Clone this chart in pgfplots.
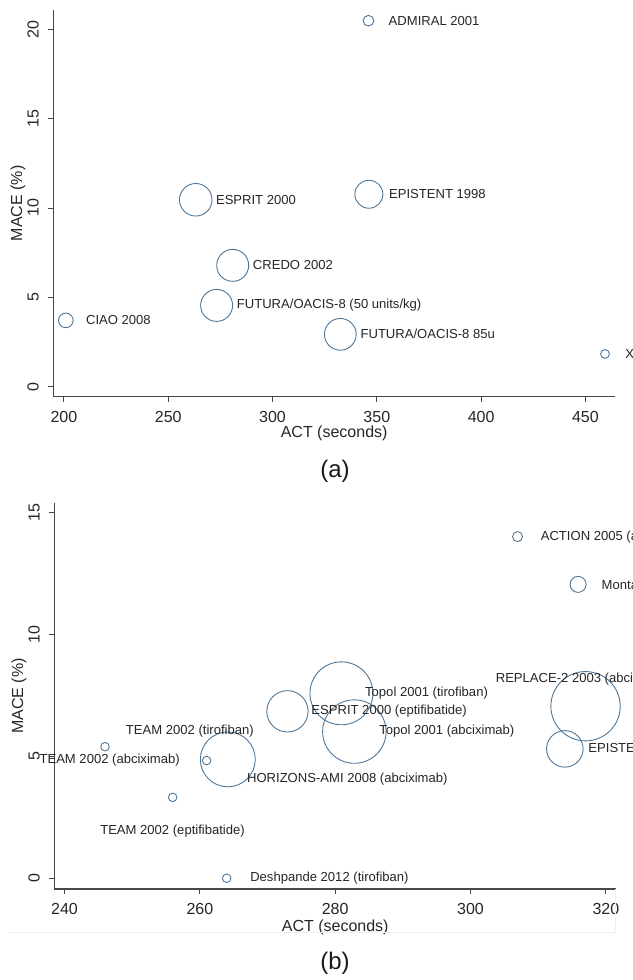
\documentclass[border=0pt]{standalone}
\usepackage{pgfplots}
\pgfplotsset{compat=1.18}
\usepackage{pgfplotstable}
\usepackage{fontspec}
\setmainfont{Liberation Sans}
\definecolor{circ}{RGB}{75,115,150}
\definecolor{axc}{RGB}{70,70,70}

\pgfplotstableread{
x y r lab dx dy
346.0 20.48 4.0 {ADMIRAL 2001} 15 0
263.2 10.46 12.2 {ESPRIT 2000} 15 0
346.2 10.77 10.5 {EPISTENT 1998} 15 0
280.9 6.79 12.0 {CREDO 2002} 15 0
273.2 4.55 12.0 {FUTURA/OACIS-8 (50 units/kg)} 15 0
200.9 3.71 5.5 {CIAO 2008} 15 0
332.5 2.93 11.9 {FUTURA/OACIS-8 85u} 15 0
459.4 1.83 3.3 {X} 15 0
}\tabA

\pgfplotstableread{
x y r lab dx dy
306.95 14.02 3.75 {ACTION 2005 (abciximab)} 17.25 0
315.9 12.06 6.0 {Montalescot} 17.5 0
317.0 7.06 26.0 {REPLACE-2 2003 (abciximab)} -67.5 20.25
313.94 5.31 13.7 {EPISTENT 1998 (abciximab)} 17.5 0
280.92 7.59 23.6 {Topol 2001 (tirofiban)} 17.6 0
282.83 6.02 23.8 {Topol 2001 (abciximab)} 18.5 0
272.94 6.85 15.5 {ESPRIT 2000 (eptifibatide)} 17.8 0
264.13 4.88 20.6 {HORIZONS-AMI 2008 (abciximab)} 14.25 -15
245.98 5.40 3.2 {TEAM 2002 (tirofiban)} 15.5 11.8
261.0 4.83 3.2 {TEAM 2002 (abciximab)} -125.5 0
255.98 3.32 3.2 {TEAM 2002 (eptifibatide)} -54.5 -25
263.96 0.0 3.2 {Deshpande 2012 (tirofiban)} 17.5 0
}\tabB

\pgfplotsset{
  stataax/.style={
    scale only axis, axis lines*=left,
    axis line style={-, draw=axc, line width=0.9pt},
    tick align=outside, major tick length=3.75pt,
    tick style={draw=axc, line width=0.7pt},
    tick label style={font=\fontsize{12}{14}\selectfont, text=black!85},
    /pgf/number format/assume math mode=true,
    xticklabel style={anchor=north, inner sep=0pt, yshift=-7pt},
    yticklabel style={xshift=-7pt, rotate=90, anchor=south, inner sep=0pt},
    every axis y label/.style={at={(axis description cs:0,0.5)}, xshift=-26.5pt, rotate=90, anchor=center, font=\fontsize{12}{14}\selectfont, text=black!85},
    clip=false,
  },
  lbl/.style={only marks, mark=*, mark size=0pt,
    mark options={draw=none, fill=none},
    scatter/use mapped color={draw=none, fill=none},
    point meta=explicit symbolic, nodes near coords,
    visualization depends on={\thisrow{dx}\as\mydx},
    visualization depends on={\thisrow{dy}\as\mydy},
    every node near coord/.append style={anchor=west, xshift=\mydx pt, yshift=\mydy pt, inner sep=0pt, font=\fontsize{9.8}{11}\selectfont, text=black!85}},
  bub/.style={scatter, only marks, mark=o, point meta=explicit,
    scatter/use mapped color={draw=circ},
    visualization depends on={\thisrow{r}\as\myr},
    scatter/@pre marker code/.append style={/tikz/mark size=\myr pt},
    mark options={line width=0.65pt}},
}

\begin{document}
\begin{tikzpicture}
\useasboundingbox (0,0) rectangle (474pt,735pt);
\clip (0,0) rectangle (474pt,735pt);
\fill[white] (0,0) rectangle (474pt,735pt);

\begin{axis}[stataax, at={(39.98pt,437.48pt)}, anchor=south west,
  width=421.28pt, height=290pt,
  xmin=194.9, xmax=464.2, ymin=-0.56, ymax=21.08,
  xtick={200,250,...,450}, ytick={0,5,...,20},
  xlabel={ACT (seconds)}, ylabel={MACE (\%)},
  every axis x label/.style={at={(axis description cs:0.5,0)}, anchor=center, yshift=-27.6pt, font=\fontsize{12}{14}\selectfont, text=black!85}]
\addplot[bub] table[x=x,y=y,meta=r]{\tabA};
\addplot[lbl] table[x=x,y=y,meta=lab]{\tabA};
\end{axis}

\begin{axis}[stataax, at={(40.8pt,68.25pt)}, anchor=south west,
  width=421.2pt, height=289.5pt,
  xmin=238.5, xmax=321.5, ymin=-0.44, ymax=15.4,
  xtick={240,260,...,320}, ytick={0,5,...,15},
  xlabel={ACT (seconds)}, ylabel={MACE (\%)},
  every axis x label/.style={at={(axis description cs:0.5,0)}, anchor=center, yshift=-28.8pt, font=\fontsize{12}{14}\selectfont, text=black!85}]
\addplot[bub] table[x=x,y=y,meta=r]{\tabB};
\addplot[lbl] table[x=x,y=y,meta=lab]{\tabB};
\end{axis}

\draw[black!6, line width=0.75pt] (6pt,35.25pt) -- (461.25pt,35.25pt) -- (461.25pt,68.25pt);
\node[font=\fontsize{18}{20}\selectfont, text=black!90] at (251.25pt,381.2pt) {(a)};
\node[font=\fontsize{18}{20}\selectfont, text=black!90] at (251.25pt,12.75pt) {(b)};
\end{tikzpicture}
\end{document}
